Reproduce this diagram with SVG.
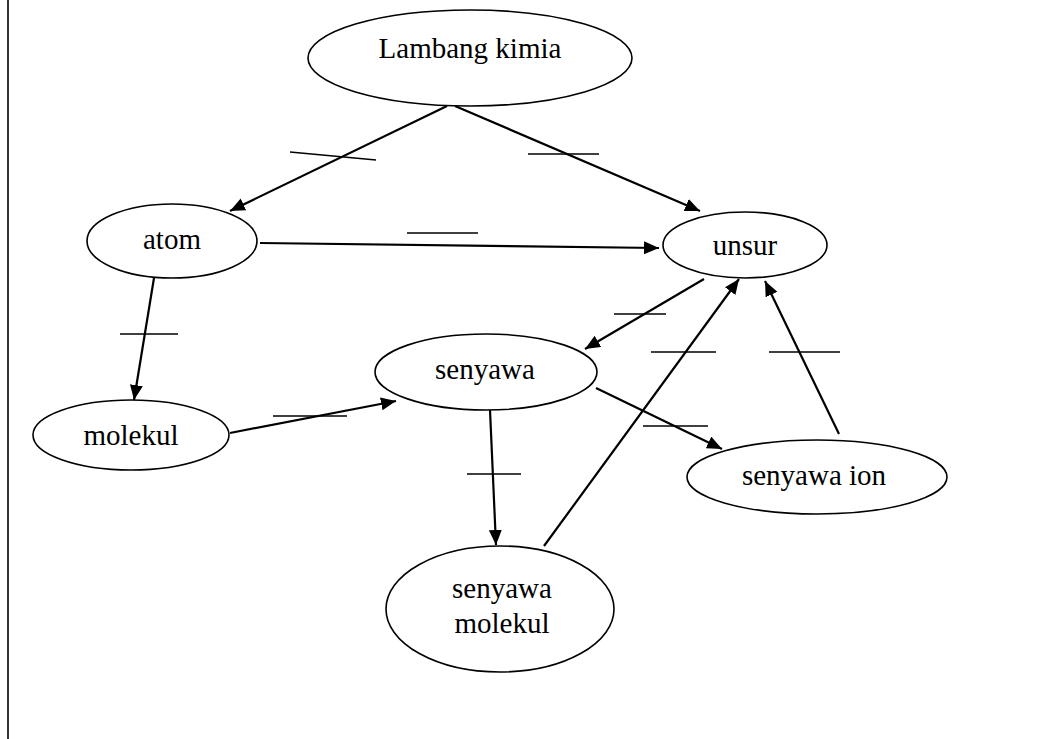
<svg xmlns="http://www.w3.org/2000/svg" width="1054" height="739" viewBox="0 0 1054 739">
<style>
.node ellipse{fill:#fff;stroke:#000;stroke-width:1.6}
.node text{font-family:"Liberation Serif","Times New Roman",serif;font-size:29px;fill:#000;text-anchor:middle}
.conn line{stroke:#000;stroke-width:2.2}
.conn line.tick{stroke-width:1.6}
</style>
<defs>
<marker id="arr" markerUnits="userSpaceOnUse" markerWidth="16" markerHeight="14" refX="15" refY="6.5" orient="auto">
<path d="M0,0 L15,6.5 L0,13 z" fill="#000"/>
</marker>
</defs>
<rect width="1054" height="739" fill="#fff"/>
<line x1="8" y1="0" x2="8" y2="739" stroke="#000" stroke-width="1.6"/>
<g id="connectors" class="conn">
<line x1="447" y1="106" x2="230" y2="211" marker-end="url(#arr)"/>
<line class="tick" x1="290" y1="152" x2="376" y2="160"/>
<line x1="455" y1="106" x2="700" y2="211" marker-end="url(#arr)"/>
<line class="tick" x1="528" y1="154" x2="599" y2="154"/>
<line x1="260" y1="243" x2="659" y2="248" marker-end="url(#arr)"/>
<line class="tick" x1="407" y1="233" x2="478" y2="233"/>
<line x1="154" y1="278" x2="134" y2="400" marker-end="url(#arr)"/>
<line class="tick" x1="120" y1="334" x2="178" y2="334"/>
<line x1="230" y1="433" x2="396" y2="401" marker-end="url(#arr)"/>
<line class="tick" x1="273" y1="416" x2="347" y2="416"/>
<line x1="704" y1="279" x2="585" y2="349" marker-end="url(#arr)"/>
<line class="tick" x1="614" y1="314" x2="666" y2="314"/>
<line x1="490" y1="410" x2="496" y2="545" marker-end="url(#arr)"/>
<line class="tick" x1="467" y1="474" x2="521" y2="474"/>
<line x1="544" y1="546" x2="739" y2="279" marker-end="url(#arr)"/>
<line class="tick" x1="651" y1="352" x2="716" y2="352"/>
<line x1="596" y1="388" x2="722" y2="449" marker-end="url(#arr)"/>
<line class="tick" x1="643" y1="426" x2="708" y2="426"/>
<line x1="839" y1="434" x2="765" y2="281" marker-end="url(#arr)"/>
<line class="tick" x1="769" y1="352" x2="840" y2="352"/>
</g>
<g id="lambang" class="node"><ellipse cx="470" cy="58" rx="162" ry="48"/><text x="470" y="58">Lambang kimia</text></g>
<g id="atom" class="node"><ellipse cx="172" cy="241" rx="85" ry="37"/><text x="172" y="249">atom</text></g>
<g id="unsur" class="node"><ellipse cx="745" cy="245" rx="82" ry="33"/><text x="745" y="255">unsur</text></g>
<g id="molekul" class="node"><ellipse cx="131" cy="435" rx="98" ry="35"/><text x="131" y="445">molekul</text></g>
<g id="senyawa" class="node"><ellipse cx="486" cy="372" rx="111" ry="38"/><text x="485" y="379">senyawa</text></g>
<g id="senyawa-ion" class="node"><ellipse cx="817" cy="477" rx="130" ry="37"/><text x="814" y="485">senyawa ion</text></g>
<g id="senyawa-molekul" class="node"><ellipse cx="500" cy="609" rx="114" ry="63"/><text x="502" y="598">senyawa</text><text x="502" y="633">molekul</text></g>
</svg>
